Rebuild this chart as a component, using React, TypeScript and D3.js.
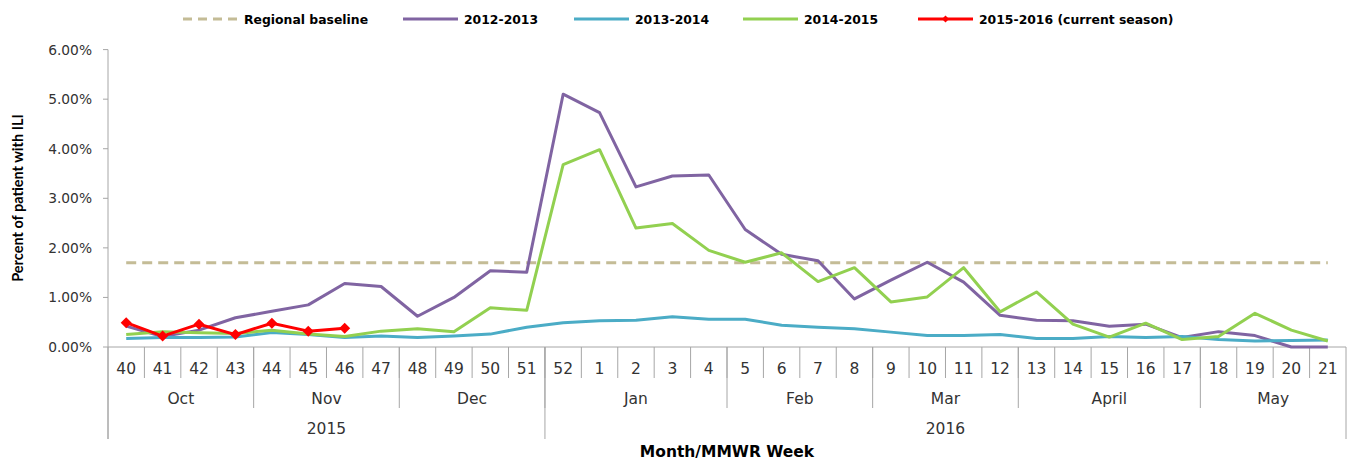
import React from "react";
import * as d3 from "d3";

const weeks = ["40","41","42","43","44","45","46","47","48","49","50","51","52","1","2","3","4","5","6","7","8","9","10","11","12","13","14","15","16","17","18","19","20","21"];
const monthNames = ["Oct","Nov","Dec","Jan","Feb","Mar","April","May"];
const monthSpans = [4,4,4,5,4,4,5,4];
const yearNames = ["2015","2016"];
const yearSpans = [12,22];
const yTicks = [0,1,2,3,4,5,6];

const baseline = 1.7;
const s1213 = [0.42,0.21,0.34,0.59,0.72,0.85,1.28,1.22,0.62,1.00,1.54,1.51,5.10,4.73,3.23,3.45,3.47,2.37,1.87,1.74,0.97,1.35,1.71,1.31,0.64,0.54,0.53,0.42,0.46,0.19,0.31,0.23,0.0,0.0];
const s1314 = [0.17,0.19,0.19,0.20,0.29,0.25,0.19,0.22,0.19,0.22,0.26,0.40,0.49,0.53,0.54,0.61,0.56,0.56,0.44,0.40,0.37,0.30,0.23,0.23,0.25,0.17,0.17,0.21,0.19,0.21,0.15,0.12,0.13,0.14];
const s1415 = [0.25,0.31,0.29,0.27,0.34,0.26,0.21,0.32,0.37,0.31,0.79,0.74,3.68,3.98,2.40,2.49,1.95,1.71,1.90,1.32,1.60,0.91,1.01,1.60,0.71,1.11,0.46,0.20,0.48,0.15,0.21,0.68,0.34,0.12];
const s1516 = [0.49,0.22,0.46,0.25,0.48,0.32,0.38];

const legendItems = [
  { label: "Regional baseline", color: "#c4bc96", dash: "9,6", marker: false },
  { label: "2012-2013", color: "#8064a2", dash: null, marker: false },
  { label: "2013-2014", color: "#4bacc6", dash: null, marker: false },
  { label: "2014-2015", color: "#92d050", dash: null, marker: false },
  { label: "2015-2016 (current season)", color: "#ff0000", dash: null, marker: true },
];
const legendX = [183, 403, 574, 743, 918];

export default function App() {
  const W = 1353, H = 461;
  const left = 108, right = 1346, top = 49.6, bottom = 347;
  const x = d3.scaleBand<string>().domain(weeks).range([left, right]).padding(0);
  const bw = x.bandwidth();
  const cx = (i: number) => (x(weeks[i]) as number) + bw / 2;
  const y = d3.scaleLinear().domain([0, 6]).range([bottom, top]);
  const line = d3.line<number>().x((_, i) => cx(i)).y((v) => y(v));

  const axisColor = "#a6a6a6";
  const labelColor = "#333333";
  const tickFont = "'DejaVu Sans', Verdana, sans-serif";
  const titleFont = "Lato, 'Open Sans', sans-serif";

  let acc = 0;
  const monthBounds: number[] = [0];
  monthSpans.forEach((s) => { acc += s; monthBounds.push(acc); });
  acc = 0;
  const yearBounds: number[] = [0];
  yearSpans.forEach((s) => { acc += s; yearBounds.push(acc); });
  const xAt = (k: number) => left + k * bw;

  const diamond = "M0,-5.5L5.5,0L0,5.5L-5.5,0Z";

  return (
    <svg width={W} height={H} style={{ position: "absolute", left: 0, top: 0, background: "#fff" }}>
      {/* legend */}
      {legendItems.map((it, i) => (
        <g key={it.label} transform={`translate(${legendX[i]},19)`}>
          <line x1={0} x2={55} y1={0} y2={0} stroke={it.color} strokeWidth={3} strokeDasharray={it.dash || undefined} />
          {it.marker && <path d={"M0,-3.5L3.5,0L0,3.5L-3.5,0Z"} transform="translate(27.5,0)" fill={it.color} />}
          <text x={61} y={4.5} fontFamily={tickFont} fontWeight="bold" fontSize={12.4} fill="#000">{it.label}</text>
        </g>
      ))}

      {/* y axis */}
      <line x1={left} x2={left} y1={top} y2={439} stroke={axisColor} strokeWidth={1} />
      {yTicks.map((t) => (
        <g key={t}>
          <line x1={left - 5} x2={left} y1={y(t)} y2={y(t)} stroke={axisColor} />
          <text x={92} y={y(t) + 5} textAnchor="end" fontFamily={tickFont} fontSize={13.8} fill={labelColor}>{t.toFixed(2) + "%"}</text>
        </g>
      ))}
      <text transform={`translate(23,198) rotate(-90)`} textAnchor="middle" fontFamily={titleFont} fontWeight="bold" fontSize={14.5} fill="#000">Percent of patient with ILI</text>

      {/* x axis */}
      <line x1={left} x2={right} y1={bottom} y2={bottom} stroke={axisColor} />
      {weeks.map((w, i) => (
        <g key={w + i}>
          {i > 0 && <line x1={xAt(i)} x2={xAt(i)} y1={bottom} y2={378} stroke={axisColor} />}
          <text x={cx(i)} y={374} textAnchor="middle" fontFamily={tickFont} fontSize={15.5} fill={labelColor}>{w}</text>
        </g>
      ))}
      {monthBounds.slice(1, -1).map((b) => (
        <line key={"mb" + b} x1={xAt(b)} x2={xAt(b)} y1={bottom} y2={408} stroke={axisColor} />
      ))}
      {monthNames.map((m, i) => (
        <text key={m} x={(xAt(monthBounds[i]) + xAt(monthBounds[i + 1])) / 2} y={404} textAnchor="middle" fontFamily={tickFont} fontSize={15.5} fill={labelColor}>{m}</text>
      ))}
      {yearBounds.map((b) => (
        <line key={"yb" + b} x1={xAt(b)} x2={xAt(b)} y1={bottom} y2={439} stroke={axisColor} />
      ))}
      {yearNames.map((yn, i) => (
        <text key={yn} x={(xAt(yearBounds[i]) + xAt(yearBounds[i + 1])) / 2} y={434} textAnchor="middle" fontFamily={tickFont} fontSize={15.5} fill={labelColor}>{yn}</text>
      ))}
      <text x={(left + right) / 2} y={457} textAnchor="middle" fontFamily={tickFont} fontWeight="bold" fontSize={15.5} fill="#000">Month/MMWR Week</text>

      {/* series */}
      <line x1={cx(0)} x2={cx(weeks.length - 1)} y1={y(baseline)} y2={y(baseline)} stroke="#c4bc96" strokeWidth={3} strokeDasharray="10,6" />
      <path d={line(s1213) || ""} fill="none" stroke="#8064a2" strokeWidth={3} strokeLinejoin="round" />
      <path d={line(s1314) || ""} fill="none" stroke="#4bacc6" strokeWidth={3} strokeLinejoin="round" />
      <path d={line(s1415) || ""} fill="none" stroke="#92d050" strokeWidth={3} strokeLinejoin="round" />
      <path d={line(s1516) || ""} fill="none" stroke="#ff0000" strokeWidth={3} strokeLinejoin="round" />
      {s1516.map((v, i) => (
        <path key={"m" + i} d={diamond} transform={`translate(${cx(i)},${y(v)})`} fill="#ff0000" />
      ))}
    </svg>
  );
}
